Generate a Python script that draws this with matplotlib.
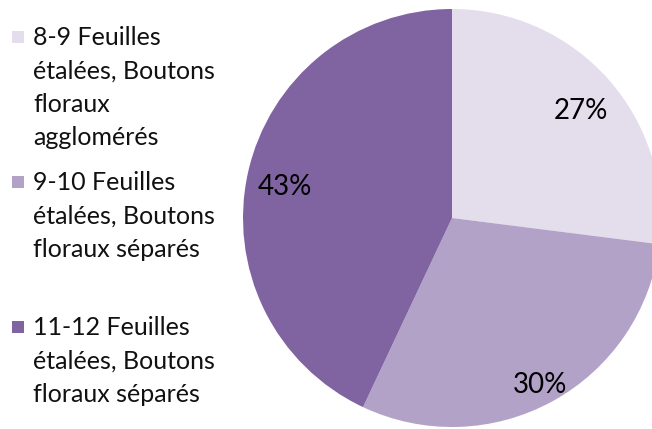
import matplotlib.pyplot as plt
from matplotlib.patches import Rectangle

# data
labels = [
    "8-9 Feuilles\nétalées, Boutons\nfloraux\nagglomérés",
    "9-10 Feuilles\nétalées, Boutons\nfloraux séparés",
    "11-12 Feuilles\nétalées, Boutons\nfloraux séparés",
]
shares = [27, 30, 43]
colors = ["#E3DDEC", "#B3A2C7", "#8064A2"]

plt.rcParams["font.family"] = ["Lato", "DejaVu Sans"]

fig = plt.figure(figsize=(6.52, 4.29), dpi=100)

# pie is bigger than the right edge of the figure, like the original
W, H = 652, 429
cx, cy, r = 452, 218, 209
ax = fig.add_axes([(cx - r) / W, (H - cy - r) / H, 2 * r / W, 2 * r / H])
wedges, texts, autotexts = ax.pie(
    shares, colors=colors, startangle=90, counterclock=False,
    autopct="%d%%", pctdistance=0.82, radius=1,
    textprops={"fontsize": 20, "color": "black"},
)
# Excel pushes the 30% label a bit further out
x, y = autotexts[1].get_position()
autotexts[1].set_position((x * 1.07, y * 1.07))
# labels sit a few pixels lower in the original
for t in autotexts:
    x, y = t.get_position()
    t.set_position((x, y - 0.03))
ax.set_xlim(-1, 1)
ax.set_ylim(-1, 1)
ax.set_aspect("equal")
ax.axis("off")

# legend by hand, entries are spaced evenly like in Excel
leg_top = 37
leg_step = 145
for i, (lab, col) in enumerate(zip(labels, colors)):
    y = leg_top + i * leg_step
    fig.patches.append(Rectangle((12 / W, 1 - (y + 6) / H), 12 / W, 12 / H,
                                 transform=fig.transFigure, facecolor=col,
                                 edgecolor="none"))
    fig.text(33 / W, 1 - (y - 11) / H, lab, fontsize=18, va="top", ha="left",
             linespacing=1.55, color="#111111")

fig.savefig("out.png", dpi=100)
